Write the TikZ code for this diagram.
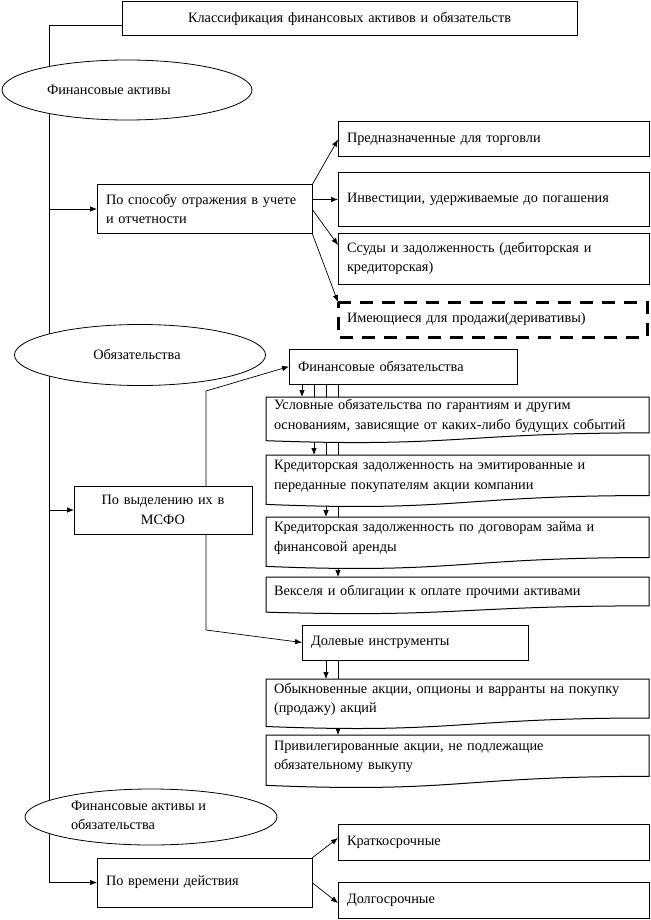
\documentclass[tikz,border=0pt]{standalone}
\usepackage{fontspec}
\setmainfont{Liberation Serif}
\usetikzlibrary{arrows.meta,calc,shapes.geometric}
\pgfdeclarelayer{bg}
\pgfdeclarelayer{lines}
\pgfdeclarelayer{boxes}
\pgfsetlayers{bg,lines,boxes,main}
\newcommand\docshape[2]{%
  \begin{pgfonlayer}{boxes}
  \draw[line width=1pt, fill=white] (#1.north west) -- (#1.north east)
    -- ($(#1.north east)+(0,0.78*#2)$)
    .. controls ($(#1.north)+(0,0.78*#2)$) and ($(#1.north)+(0,1.1*#2)$) ..
    ($(#1.north west)+(0,0.95*#2)$) -- cycle;
  \end{pgfonlayer}}
\begin{document}
\begin{tikzpicture}[x=1pt,y=-1pt,
  font=\fontsize{14.3}{19.5}\selectfont,
  bx/.style={draw, line width=1pt, fill=white, anchor=north west, inner xsep=9pt, inner ysep=0pt, outer sep=0pt, align=left},
  ell/.style={draw, ellipse, line width=0.8pt, fill=white, inner sep=0pt, outer sep=0pt},
  doc/.style={anchor=north west, inner xsep=8pt, inner ysep=0pt, outer sep=0pt, align=left, text width=367pt},
  lbl/.style={inner sep=0pt, outer sep=0pt, align=left},
  conn/.style={line width=0.7pt},
  arr/.style={conn, -{Latex[length=7pt,width=5.5pt]}},
]
\begin{pgfonlayer}{bg}
\fill[white] (0,0) rectangle (650,920);
\end{pgfonlayer}
\useasboundingbox (0,0) rectangle (650,920);

% title
\node[bx, align=center, text width=437pt, minimum height=34pt] (title) at (122,2) {Классификация финансовых активов и обязательств};

% ellipses
\node[ell, minimum width=250pt, minimum height=60pt] (e1) at (127,90) {};
\node[lbl, anchor=west] (e1t) at (47,90) {Финансовые активы};
\node[ell, minimum width=251pt, minimum height=61pt] (e2) at (140,355) {};
\node[lbl] (e2t) at (137,354) {Обязательства};
\node[ell, minimum width=252pt, minimum height=56pt] (e3) at (151,817) {};
\node[lbl, anchor=north west] (e3t) at (71,801) {Финансовые активы и\\обязательства};

% first group
\node[bx, text width=197pt, minimum height=48pt] (ps) at (97,185) {По способу отражения в учете\\и отчетности};
\node[bx, text width=293pt, minimum height=35pt] (r1) at (338,122) {Предназначенные для торговли};
\node[bx, text width=293pt, minimum height=53pt] (r2) at (338,173) {Инвестиции, удерживаемые до погашения};
\node[bx, text width=293pt, minimum height=51pt] (r3) at (338,233) {Ссуды и задолженность (дебиторская и\\кредиторская)};
\node[bx, draw=none, text width=291pt, minimum height=35pt] (rd) at (338,302) {Имеющиеся для продажи(деривативы)};
\draw[line width=3pt, dash pattern=on 13pt off 9pt] (rd.north west) -- (rd.north east) -- (rd.south east) -- (rd.south west) -- cycle;

% second group
\node[bx, align=center, text width=160pt, minimum height=48pt] (mf) at (74,486) {По выделению их в\\МСФО};
\node[bx, text width=210pt, minimum height=35pt] (fo) at (289,349) {Финансовые обязательства};
\node[doc, minimum height=37.7pt] (d1) at (266,397) {Условные обязательства по гарантиям и другим\\основаниям, зависящие от каких-либо будущих событий};
\node[doc, minimum height=42.6pt] (d2) at (266,455) {Кредиторская задолженность на эмитированные и\\переданные покупателям акции компании};
\node[doc, minimum height=42.6pt] (d3) at (266,517) {Кредиторская задолженность по договорам займа и\\финансовой аренды};
\node[doc, minimum height=30.3pt] (d4) at (266,577) {Векселя и облигации к оплате прочими активами};
\node[bx, text width=208pt, minimum height=35pt] (dol) at (302,625) {Долевые инструменты};
\node[doc, minimum height=41pt] (d5) at (266,679) {Обыкновенные акции, опционы и варранты на покупку\\(продажу) акций};
\node[doc, minimum height=43.5pt] (d6) at (266,735) {Привилегированные акции, не подлежащие\\обязательному выкупу};
\docshape{d1}{46}
\docshape{d2}{52}
\docshape{d3}{52}
\docshape{d4}{37}
\docshape{d5}{50}
\docshape{d6}{53}

% third group
\node[bx, text width=197pt, minimum height=49pt] (pv) at (97,858) {По времени действия};
\node[bx, text width=293pt, minimum height=36pt] (kr) at (338,824) {Краткосрочные};
\node[bx, text width=293pt, minimum height=36pt] (dl) at (338,882) {Долгосрочные};

% connectors
\coordinate (tA) at ($(title.north west)!0.7!(title.south west)$);
\coordinate (tr) at (49,0);
\coordinate (m1) at (206,391);
\coordinate (m2) at (206,630);
\coordinate (c1) at (302,0);
\coordinate (c2) at (314,0);
\coordinate (c3) at (326,0);
\coordinate (c4) at (338,0);
\coordinate (a3) at (338,245);
\coordinate (k1) at (338,838);
\coordinate (k2) at (338,903);
\begin{pgfonlayer}{lines}
\draw[arr] (tA) -- (tA -| tr) -- (tr |- pv.west) -- (pv.west);
\draw[arr] (tr |- ps.west) -- (ps.west);
\draw[arr] (tr |- mf.west) -- (mf.west);
\draw[arr] (ps.north east) -- (r1.west);
\draw[arr] (ps.east |- r2.west) -- (r2.west);
\draw[arr] (ps.east) -- (a3);
\draw[arr] (ps.south east) -- (rd.north west);
\draw[arr] (mf.north -| m1) -- (m1) -- (fo.west);
\draw[arr] (mf.south -| m2) -- (m2) -- (dol.west);
\draw[arr] (fo.south -| c1) -- (d1.north -| c1);
\draw[arr] (fo.south -| c2) -- (d2.north -| c2);
\draw[arr] (fo.south -| c3) -- (d3.north -| c3);
\draw[arr] (fo.south -| c4) -- (d4.north -| c4);
\draw[arr] (dol.south -| c3) -- (d5.north -| c3);
\draw[arr] (dol.south -| c4) -- (d6.north -| c4);
\draw[arr] (pv.north east) -- (k1);
\draw[arr] (pv.east) -- (k2);
\end{pgfonlayer}
\end{tikzpicture}
\end{document}
